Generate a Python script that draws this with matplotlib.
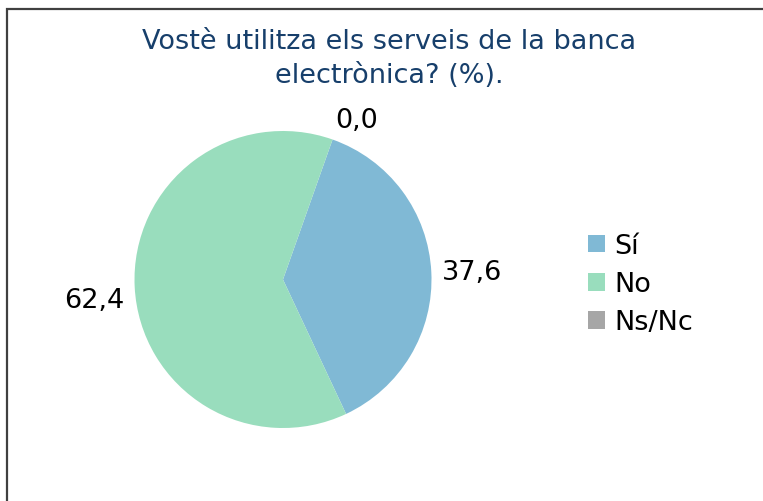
import matplotlib.pyplot as plt
import numpy as np
from matplotlib.patches import Rectangle

# dades
categories = ["Sí", "No", "Ns/Nc"]
values = [37.6, 62.4, 0.0]
value_labels = ["37,6", "62,4", "0,0"]
colors = ["#80B9D5", "#99DDBD", "#A6A6A6"]
title = "Vostè utilitza els serveis de la banca\nelectrònica? (%)."

W, H = 763, 502
fig = plt.figure(figsize=(W / 100, H / 100), dpi=100)

# marc del gràfic
fig.patches.append(Rectangle((7 / W, -0.1), 1.2, 1 - 10 / H + 0.1,
                             transform=fig.transFigure, fill=False,
                             edgecolor="#404040", linewidth=1.6))

# pastís
cx, cy, r = 283, 280.5, 148.5
lim = 1.3
side = 2 * r * lim
ax = fig.add_axes([(cx - side / 2) / W, (H - cy - side / 2) / H, side / W, side / H])
wedges, _ = ax.pie(values, colors=colors, startangle=70.5, counterclock=False,
                   radius=1, wedgeprops=dict(linewidth=0))
ax.set_xlim(-lim, lim)
ax.set_ylim(-lim, lim)
ax.set_aspect("equal")
ax.axis("off")

# etiquetes a fora, com "extrem exterior"
for w, lab in zip(wedges, value_labels):
    ang = np.deg2rad((w.theta1 + w.theta2) / 2)
    c, s = np.cos(ang), np.sin(ang)
    ha = "left" if c > 0.2 else ("right" if c < -0.2 else "center")
    va = "bottom" if s > 0.5 else ("top" if s < -0.02 else "center")
    d = 1.05 if s > 0.5 else 1.07
    ax.text(d * c, d * s, lab, ha=ha, va=va, fontsize=19.5, color="black")

fig.text(389 / W, 1 - 59 / H, title, ha="center", va="center", fontsize=19.5,
         color="#173F6B", linespacing=1.4)

fig.legend(wedges, categories, loc="upper left", bbox_to_anchor=(588 / W, 1 - 234 / H),
           frameon=False, fontsize=19.5, handlelength=0.63, handleheight=0.63,
           handletextpad=0.33, labelspacing=0.45, borderpad=0, borderaxespad=0)

fig.savefig("out.png", dpi=100)
